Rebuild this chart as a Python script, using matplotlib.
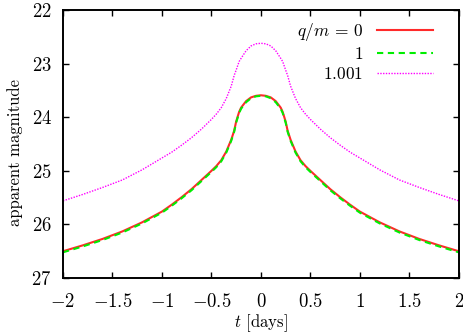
import matplotlib
matplotlib.use("Agg")
import matplotlib.pyplot as plt

plt.rcParams['font.family'] = 'serif'
plt.rcParams['font.serif'] = ['cmr10', 'DejaVu Serif']
plt.rcParams['mathtext.fontset'] = 'cm'
plt.rcParams['axes.unicode_minus'] = False

# time in days
t = [-2.0, -1.8, -1.6, -1.4, -1.2, -1.0, -0.9, -0.8, -0.7, -0.6, -0.5, -0.45, -0.4,
     -0.35, -0.3, -0.27, -0.25, -0.22, -0.2, -0.15, -0.1, -0.05, 0.0,
     0.05, 0.1, 0.15, 0.2, 0.22, 0.25, 0.27, 0.3, 0.35, 0.4, 0.45, 0.5,
     0.6, 0.7, 0.8, 0.9, 1.0, 1.2, 1.4, 1.6, 1.8, 2.0]

mag_q0 = [26.50, 26.39, 26.27, 26.13, 25.96, 25.76, 25.63, 25.49, 25.34, 25.17, 25.00, 24.91, 24.80,
          24.64, 24.42, 24.25, 24.08, 23.90, 23.82, 23.70, 23.63, 23.60, 23.59,
          23.60, 23.63, 23.70, 23.82, 23.90, 24.08, 24.25, 24.42, 24.64, 24.80, 24.91, 25.00,
          25.17, 25.34, 25.49, 25.63, 25.76, 25.96, 26.13, 26.27, 26.39, 26.50]

mag_q1 = [26.52, 26.41, 26.29, 26.15, 25.98, 25.78, 25.65, 25.51, 25.36, 25.19, 25.02, 24.93, 24.82,
          24.66, 24.44, 24.27, 24.10, 23.92, 23.84, 23.72, 23.645, 23.61, 23.60,
          23.61, 23.645, 23.72, 23.84, 23.92, 24.10, 24.27, 24.44, 24.66, 24.82, 24.93, 25.02,
          25.19, 25.36, 25.51, 25.65, 25.78, 25.98, 26.15, 26.29, 26.41, 26.52]

mag_q1001 = [25.56, 25.44, 25.31, 25.17, 24.98, 24.76, 24.65, 24.52, 24.38, 24.22, 24.04, 23.94, 23.82,
             23.65, 23.42, 23.22, 23.12, 22.96, 22.90, 22.76, 22.67, 22.63, 22.62,
             22.63, 22.67, 22.76, 22.90, 22.96, 23.12, 23.22, 23.42, 23.65, 23.82, 23.94, 24.04,
             24.22, 24.38, 24.52, 24.65, 24.76, 24.98, 25.17, 25.31, 25.44, 25.56]

labels = [r"$q/m\,=\,0$", "$1$", "$1.001$"]

xticks = [-2, -1.5, -1, -0.5, 0, 0.5, 1, 1.5, 2]
xtick_labels = ["$-2$", "$-1.5$", "$-1$", "$-0.5$", "$0$", "$0.5$", "$1$", "$1.5$", "$2$"]
yticks = [22, 23, 24, 25, 26, 27]
ytick_labels = ["$22$", "$23$", "$24$", "$25$", "$26$", "$27$"]

fig = plt.figure(figsize=(4.63, 3.35), dpi=100)
ax = fig.add_axes([0.136, 0.170, 0.855, 0.800])

ax.plot(t, mag_q0, color='#ff2a2a', lw=1.5, ls='-', label=labels[0])
ax.plot(t, mag_q1, color='#00ee00', lw=1.5, ls=(0, (3, 2.2)), label=labels[1])
ax.plot(t, mag_q1001, color='#ff00ff', lw=1.0, ls=(0, (1, 1)), label=labels[2])

ax.set_xlim(-2, 2)
ax.set_ylim(27, 22)
ax.set_xticks(xticks)
ax.set_xticklabels(xtick_labels)
ax.set_yticks(yticks)
ax.set_yticklabels(ytick_labels)
ax.tick_params(direction='in', length=4, width=1, top=True, right=True, labelsize=13.5)
ax.tick_params(axis='x', pad=11)
ax.tick_params(axis='y', pad=8)
for s in ax.spines.values():
    s.set_linewidth(1.4)

ax.set_xlabel("$t$ [days]", fontsize=12)
ax.xaxis.set_label_coords(0.5, -0.127)
ax.set_ylabel("apparent magnitude", fontsize=12)
ax.yaxis.set_label_coords(-0.100, 0.47)

ax.legend(loc='upper right', frameon=False, markerfirst=False, fontsize=12.5,
          handlelength=3.2, handletextpad=0.8, labelspacing=0.2,
          borderaxespad=0.0, bbox_to_anchor=(0.952, 0.985))

fig.savefig("out.png", dpi=100)
